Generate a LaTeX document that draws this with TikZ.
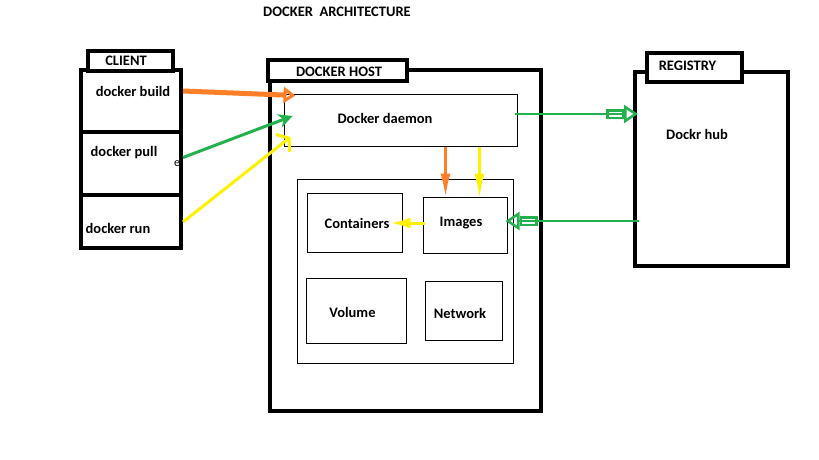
\documentclass[tikz,border=0pt]{standalone}
\usepackage{fontspec}
\setmainfont{Carlito}
\usetikzlibrary{arrows.meta,calc}
\definecolor{paintorange}{RGB}{255,127,39}
\definecolor{paintgreen}{RGB}{34,177,76}
\definecolor{paintyellow}{RGB}{255,242,0}
\tikzset{
  heavybox/.style={draw=black,line width=4pt,rectangle,fill=white,inner sep=0pt},
  thinbox/.style={draw=black,line width=1pt,rectangle,inner sep=0pt},
  txt/.style={inner sep=0pt,font=\bfseries\fontsize{14.5}{16}\selectfont},
  hollowtip/.style={-{Rectangle[open,length=18pt,width=10pt]Triangle[open,length=14pt,width=18pt]}},
}
\begin{document}
\begin{tikzpicture}[x=1pt,y=-1pt]
  \useasboundingbox (0,0) rectangle (819,460);
  \node[txt] (title) at (337,12) {DOCKER~ ARCHITECTURE};
  % client
  \node[heavybox,minimum width=100pt,minimum height=62pt] (build) at (131,101) {};
  \node[heavybox,minimum width=100pt,minimum height=63pt] (pull) at (131,163.5) {};
  \node[heavybox,minimum width=100pt,minimum height=53pt] (run) at (131,221.5) {};
  \node[heavybox,minimum width=85pt,minimum height=20pt] (clienttab) at (130.5,61) {};
  \node[txt] (t-client) at (126,61) {CLIENT};
  \node[txt] (t-build) at (133,91) {docker build};
  \node[txt] (t-pull) at (124,153) {docker pull};
  \node[txt] (t-run) at (118,228) {docker run};
  \node[inner sep=0pt,font=\fontsize{12}{12}\selectfont] (stray) at (177,164) {e};
  % docker host
  \node[heavybox,minimum width=271pt,minimum height=341pt] (host) at (405.5,240.5) {};
  \node[heavybox,minimum width=139pt,minimum height=21pt] (hosttab) at (337.5,70.5) {};
  \node[txt] (t-host) at (339,72) {DOCKER HOST};
  \node[thinbox,minimum width=233pt,minimum height=52pt] (daemon) at (400.5,120) {};
  \node[txt] (t-daemon) at (385,118) {Docker daemon};
  \node[thinbox,minimum width=216pt,minimum height=184pt] (inner) at (405,271) {};
  \node[thinbox,minimum width=95pt,minimum height=59pt] (containers) at (354.5,222.5) {};
  \node[thinbox,minimum width=84pt,minimum height=56pt] (images) at (465,225) {};
  \node[thinbox,minimum width=100pt,minimum height=65pt] (volume) at (356,310.5) {};
  \node[thinbox,minimum width=77pt,minimum height=59pt] (network) at (463.5,310.5) {};
  \node[txt] (t-containers) at (357,223) {Containers};
  \node[txt] (t-images) at (461,223) {Images};
  \node[txt] (t-volume) at (352.5,312) {Volume};
  \node[txt] (t-network) at (460,313) {Network};
  % registry
  \node[heavybox,minimum width=153pt,minimum height=194pt] (registry) at (711.5,169) {};
  \node[heavybox,minimum width=95pt,minimum height=29pt] (registrytab) at (694.5,67.5) {};
  \node[txt] (t-registry) at (687.5,66) {REGISTRY};
  \node[txt] (t-hub) at (697,134) {Dockr hub};
  % commands
  \draw[paintorange,line width=5pt,-{Triangle[open,length=12pt,width=16pt]}] (build.east |- t-build) -- ($(daemon.north west)+(12,2)$);
  \draw[paintgreen,line width=3pt,-{Stealth[length=14pt,width=14pt]}] ($(pull.east)+(0,-6)$) -- ($(daemon.west)+(9,-4)$);
  \draw[paintyellow,line width=3pt,-{Straight Barb[length=8pt,width=22pt]}] ($(run.east)+(0,0.5)$) -- ($(daemon.west)+(7,17)$);
  % daemon and registry
  \draw[paintgreen,line width=2.5pt,hollowtip] ($(daemon.east)+(-3,-6)$) -- ($(registry.west)+(5,-55)$);
  \draw[paintgreen,line width=2.5pt,hollowtip] ($(registry.west)+(6,52)$) -- ($(images.east)+(-2,-4)$);
  \draw[paintorange,line width=3.5pt,-{Latex[length=26pt,width=10pt]}] ($(daemon.south west)+(162,0)$) -- ($(images.north west)+(23,3)$);
  \draw[paintyellow,line width=3pt,-{Latex[length=26pt,width=10pt]}] ($(daemon.south west)+(196,0)$) -- ($(images.north west)+(57,3)$);
  \draw[paintyellow,line width=3pt,-{Latex[length=20pt,width=11pt]}] ($(images.west)+(2,-2)$) -- ($(containers.east)+(-12,0.5)$);
\end{tikzpicture}
\end{document}
